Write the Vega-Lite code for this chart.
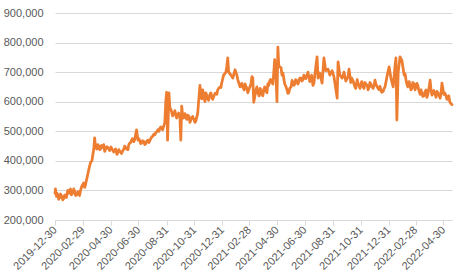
{
  "$schema": "https://vega.github.io/schema/vega-lite/v6.json",
  "width": 397,
  "height": 207,
  "autosize": {"type": "none"},
  "padding": {"left": 55, "top": 13, "right": 15, "bottom": 57},
  "background": "white",
  "config": {"view": {"stroke": null}, "font": "Liberation Sans"},
  "data": {"values": [
    {"d":"2019-12-30","v":290000},{"d":"2019-12-31","v":305000},{"d":"2020-01-02","v":280000},{"d":"2020-01-05","v":285000},
    {"d":"2020-01-09","v":275000},{"d":"2020-01-14","v":280000},{"d":"2020-01-18","v":272000},{"d":"2020-01-22","v":285000},
    {"d":"2020-01-27","v":300000},{"d":"2020-01-29","v":290000},{"d":"2020-02-02","v":305000},{"d":"2020-02-07","v":292000},
    {"d":"2020-02-11","v":298000},{"d":"2020-02-16","v":285000},{"d":"2020-02-20","v":290000},{"d":"2020-02-24","v":300000},
    {"d":"2020-02-27","v":315000},{"d":"2020-03-02","v":325000},{"d":"2020-03-04","v":310000},{"d":"2020-03-06","v":320000},
    {"d":"2020-03-11","v":355000},{"d":"2020-03-13","v":370000},{"d":"2020-03-17","v":395000},{"d":"2020-03-20","v":400000},
    {"d":"2020-03-22","v":420000},{"d":"2020-03-24","v":440000},{"d":"2020-03-26","v":478000},{"d":"2020-03-28","v":445000},
    {"d":"2020-03-31","v":440000},{"d":"2020-04-04","v":450000},{"d":"2020-04-08","v":440000},{"d":"2020-04-13","v":445000},
    {"d":"2020-04-15","v":455000},{"d":"2020-04-19","v":440000},{"d":"2020-04-24","v":445000},{"d":"2020-04-28","v":435000},
    {"d":"2020-05-03","v":440000},{"d":"2020-05-07","v":430000},{"d":"2020-05-11","v":440000},{"d":"2020-05-16","v":428000},
    {"d":"2020-05-20","v":432000},{"d":"2020-05-24","v":425000},{"d":"2020-05-29","v":440000},{"d":"2020-06-02","v":445000},
    {"d":"2020-06-07","v":438000},{"d":"2020-06-11","v":460000},{"d":"2020-06-15","v":470000},{"d":"2020-06-20","v":465000},
    {"d":"2020-06-24","v":490000},{"d":"2020-06-26","v":505000},{"d":"2020-06-29","v":470000},{"d":"2020-07-03","v":468000},
    {"d":"2020-07-07","v":460000},{"d":"2020-07-12","v":465000},{"d":"2020-07-16","v":458000},{"d":"2020-07-21","v":470000},
    {"d":"2020-07-25","v":468000},{"d":"2020-07-29","v":480000},{"d":"2020-08-03","v":490000},{"d":"2020-08-07","v":495000},
    {"d":"2020-08-12","v":505000},{"d":"2020-08-16","v":510000},{"d":"2020-08-20","v":510000},{"d":"2020-08-25","v":520000},
    {"d":"2020-08-27","v":530000},{"d":"2020-08-29","v":600000},{"d":"2020-08-31","v":632000},{"d":"2020-09-02","v":470000},
    {"d":"2020-09-05","v":630000},{"d":"2020-09-07","v":580000},{"d":"2020-09-11","v":565000},{"d":"2020-09-16","v":560000},
    {"d":"2020-09-20","v":555000},{"d":"2020-09-24","v":555000},{"d":"2020-09-29","v":550000},{"d":"2020-10-01","v":470000},
    {"d":"2020-10-03","v":585000},{"d":"2020-10-05","v":555000},{"d":"2020-10-10","v":560000},{"d":"2020-10-14","v":540000},
    {"d":"2020-10-19","v":550000},{"d":"2020-10-21","v":530000},{"d":"2020-10-25","v":545000},{"d":"2020-10-30","v":540000},
    {"d":"2020-11-03","v":535000},{"d":"2020-11-07","v":560000},{"d":"2020-11-12","v":655000},{"d":"2020-11-14","v":620000},
    {"d":"2020-11-18","v":640000},{"d":"2020-11-23","v":600000},{"d":"2020-11-25","v":630000},{"d":"2020-11-29","v":610000},
    {"d":"2020-12-04","v":625000},{"d":"2020-12-08","v":615000},{"d":"2020-12-13","v":620000},{"d":"2020-12-17","v":630000},
    {"d":"2020-12-21","v":640000},{"d":"2020-12-26","v":650000},{"d":"2020-12-30","v":665000},{"d":"2021-01-03","v":690000},
    {"d":"2021-01-08","v":700000},{"d":"2021-01-10","v":720000},{"d":"2021-01-12","v":748000},{"d":"2021-01-14","v":700000},
    {"d":"2021-01-19","v":690000},{"d":"2021-01-23","v":680000},{"d":"2021-01-28","v":708000},{"d":"2021-02-01","v":690000},
    {"d":"2021-02-05","v":665000},{"d":"2021-02-10","v":655000},{"d":"2021-02-14","v":650000},{"d":"2021-02-19","v":660000},
    {"d":"2021-02-23","v":645000},{"d":"2021-02-27","v":640000},{"d":"2021-03-04","v":660000},{"d":"2021-03-06","v":685000},
    {"d":"2021-03-08","v":680000},{"d":"2021-03-10","v":598000},{"d":"2021-03-15","v":640000},{"d":"2021-03-19","v":630000},
    {"d":"2021-03-24","v":645000},{"d":"2021-03-28","v":625000},{"d":"2021-04-01","v":640000},{"d":"2021-04-06","v":635000},
    {"d":"2021-04-10","v":660000},{"d":"2021-04-14","v":670000},{"d":"2021-04-19","v":665000},{"d":"2021-04-23","v":700000},
    {"d":"2021-04-25","v":742000},{"d":"2021-04-28","v":680000},{"d":"2021-04-30","v":600000},{"d":"2021-05-02","v":785000},
    {"d":"2021-05-04","v":720000},{"d":"2021-05-09","v":715000},{"d":"2021-05-13","v":697000},{"d":"2021-05-17","v":660000},
    {"d":"2021-05-22","v":640000},{"d":"2021-05-26","v":630000},{"d":"2021-05-31","v":650000},{"d":"2021-06-04","v":665000},
    {"d":"2021-06-08","v":660000},{"d":"2021-06-13","v":670000},{"d":"2021-06-17","v":668000},{"d":"2021-06-22","v":680000},
    {"d":"2021-06-26","v":675000},{"d":"2021-06-30","v":685000},{"d":"2021-07-05","v":690000},{"d":"2021-07-09","v":683000},
    {"d":"2021-07-13","v":672000},{"d":"2021-07-18","v":655000},{"d":"2021-07-22","v":690000},{"d":"2021-07-27","v":752000},
    {"d":"2021-07-29","v":680000},{"d":"2021-08-02","v":697000},{"d":"2021-08-07","v":663000},{"d":"2021-08-11","v":748000},
    {"d":"2021-08-15","v":705000},{"d":"2021-08-20","v":710000},{"d":"2021-08-24","v":690000},{"d":"2021-08-29","v":705000},
    {"d":"2021-09-02","v":685000},{"d":"2021-09-04","v":665000},{"d":"2021-09-09","v":612000},{"d":"2021-09-11","v":735000},
    {"d":"2021-09-15","v":690000},{"d":"2021-09-20","v":680000},{"d":"2021-09-24","v":700000},{"d":"2021-09-28","v":670000},
    {"d":"2021-10-03","v":685000},{"d":"2021-10-05","v":710000},{"d":"2021-10-09","v":665000},{"d":"2021-10-14","v":670000},
    {"d":"2021-10-18","v":650000},{"d":"2021-10-23","v":675000},{"d":"2021-10-27","v":655000},{"d":"2021-10-31","v":660000},
    {"d":"2021-11-05","v":650000},{"d":"2021-11-09","v":665000},{"d":"2021-11-14","v":655000},{"d":"2021-11-18","v":650000},
    {"d":"2021-11-22","v":660000},{"d":"2021-11-27","v":645000},{"d":"2021-12-01","v":673000},{"d":"2021-12-06","v":650000},
    {"d":"2021-12-10","v":640000},{"d":"2021-12-14","v":640000},{"d":"2021-12-19","v":635000},{"d":"2021-12-23","v":650000},
    {"d":"2021-12-28","v":690000},{"d":"2022-01-01","v":718000},{"d":"2022-01-05","v":680000},{"d":"2022-01-10","v":650000},
    {"d":"2022-01-14","v":720000},{"d":"2022-01-16","v":748000},{"d":"2022-01-18","v":538000},{"d":"2022-01-21","v":700000},
    {"d":"2022-01-25","v":752000},{"d":"2022-01-29","v":740000},{"d":"2022-02-03","v":690000},{"d":"2022-02-07","v":675000},
    {"d":"2022-02-11","v":650000},{"d":"2022-02-16","v":655000},{"d":"2022-02-20","v":645000},{"d":"2022-02-25","v":660000},
    {"d":"2022-03-01","v":650000},{"d":"2022-03-05","v":655000},{"d":"2022-03-10","v":625000},{"d":"2022-03-14","v":630000},
    {"d":"2022-03-19","v":620000},{"d":"2022-03-23","v":640000},{"d":"2022-03-27","v":625000},{"d":"2022-04-01","v":673000},
    {"d":"2022-04-03","v":640000},{"d":"2022-04-07","v":630000},{"d":"2022-04-12","v":625000},{"d":"2022-04-16","v":635000},
    {"d":"2022-04-21","v":620000},{"d":"2022-04-25","v":630000},{"d":"2022-04-27","v":663000},{"d":"2022-05-01","v":625000},
    {"d":"2022-05-06","v":620000},{"d":"2022-05-10","v":615000},{"d":"2022-05-14","v":600000},{"d":"2022-05-19","v":590000},
    {"d":"2020-01-03","v":292000},{"d":"2020-01-07","v":270000},{"d":"2020-01-11","v":288000},{"d":"2020-01-16","v":268000},
    {"d":"2020-01-20","v":283000},{"d":"2020-01-24","v":276000},{"d":"2020-02-04","v":285000},{"d":"2020-02-09","v":305000},
    {"d":"2020-02-13","v":283000},{"d":"2020-02-18","v":296000},{"d":"2020-02-22","v":283000},
    {"d":"2020-04-02","v":455000},{"d":"2020-04-06","v":438000},{"d":"2020-04-10","v":452000},{"d":"2020-04-17","v":432000},
    {"d":"2020-04-22","v":448000},{"d":"2020-04-26","v":440000},{"d":"2020-05-01","v":447000},{"d":"2020-05-05","v":435000},
    {"d":"2020-05-09","v":437000},{"d":"2020-05-14","v":422000},{"d":"2020-05-18","v":438000},{"d":"2020-05-22","v":430000},
    {"d":"2020-05-26","v":432000},{"d":"2020-05-31","v":450000},{"d":"2020-06-04","v":440000},{"d":"2020-06-09","v":455000},
    {"d":"2020-06-13","v":462000},{"d":"2020-06-17","v":475000},{"d":"2020-06-22","v":472000},
    {"d":"2020-07-01","v":475000},{"d":"2020-07-05","v":458000},{"d":"2020-07-09","v":468000},{"d":"2020-07-14","v":455000},
    {"d":"2020-07-18","v":466000},{"d":"2020-07-23","v":462000},{"d":"2020-07-27","v":475000},{"d":"2020-08-01","v":485000},
    {"d":"2020-08-05","v":488000},{"d":"2020-08-10","v":500000},{"d":"2020-08-14","v":500000},{"d":"2020-08-18","v":515000},
    {"d":"2020-08-22","v":505000},
    {"d":"2020-09-09","v":575000},{"d":"2020-09-13","v":552000},{"d":"2020-09-18","v":570000},{"d":"2020-09-22","v":545000},
    {"d":"2020-09-26","v":562000},{"d":"2020-10-07","v":545000},{"d":"2020-10-12","v":550000},{"d":"2020-10-16","v":555000},
    {"d":"2020-10-23","v":538000},{"d":"2020-10-27","v":550000},{"d":"2020-11-01","v":530000},{"d":"2020-11-05","v":548000},
    {"d":"2020-11-16","v":610000},{"d":"2020-11-20","v":625000},{"d":"2020-11-27","v":622000},{"d":"2020-12-01","v":605000},
    {"d":"2020-12-06","v":630000},{"d":"2020-12-10","v":608000},{"d":"2020-12-15","v":628000},{"d":"2020-12-19","v":625000},
    {"d":"2020-12-23","v":645000},{"d":"2020-12-28","v":648000},
    {"d":"2021-02-03","v":675000},{"d":"2021-02-08","v":650000},{"d":"2021-02-12","v":662000},{"d":"2021-02-17","v":640000},
    {"d":"2021-02-21","v":652000},{"d":"2021-02-25","v":630000},{"d":"2021-03-17","v":650000},{"d":"2021-03-22","v":620000},
    {"d":"2021-03-26","v":640000},{"d":"2021-03-30","v":620000},{"d":"2021-04-03","v":650000},{"d":"2021-04-08","v":630000},
    {"d":"2021-04-12","v":655000},{"d":"2021-04-16","v":675000},{"d":"2021-04-21","v":660000},
    {"d":"2021-05-11","v":690000},{"d":"2021-05-20","v":650000},{"d":"2021-05-24","v":628000},{"d":"2021-05-28","v":645000},
    {"d":"2021-06-02","v":672000},{"d":"2021-06-06","v":655000},{"d":"2021-06-10","v":675000},{"d":"2021-06-15","v":660000},
    {"d":"2021-06-19","v":680000},{"d":"2021-06-24","v":670000},{"d":"2021-06-28","v":690000},{"d":"2021-07-02","v":678000},
    {"d":"2021-07-07","v":700000},{"d":"2021-07-11","v":668000},{"d":"2021-07-15","v":690000},{"d":"2021-07-20","v":662000},
    {"d":"2021-10-11","v":680000},{"d":"2021-10-16","v":660000},{"d":"2021-10-20","v":645000},{"d":"2021-10-25","v":660000},
    {"d":"2021-10-29","v":645000},{"d":"2021-11-02","v":668000},{"d":"2021-11-07","v":645000},{"d":"2021-11-11","v":660000},
    {"d":"2021-11-16","v":640000},{"d":"2021-11-20","v":665000},{"d":"2021-11-24","v":650000},{"d":"2021-11-29","v":655000},
    {"d":"2021-12-03","v":660000},{"d":"2021-12-08","v":645000},{"d":"2021-12-12","v":652000},{"d":"2021-12-16","v":632000},
    {"d":"2021-12-21","v":645000},
    {"d":"2022-02-05","v":695000},{"d":"2022-02-09","v":660000},{"d":"2022-02-14","v":668000},{"d":"2022-02-18","v":640000},
    {"d":"2022-02-22","v":665000},{"d":"2022-02-27","v":640000},{"d":"2022-03-03","v":662000},{"d":"2022-03-07","v":640000},
    {"d":"2022-03-12","v":640000},{"d":"2022-03-16","v":618000},{"d":"2022-03-21","v":635000},{"d":"2022-03-25","v":615000},
    {"d":"2022-03-29","v":640000},{"d":"2022-04-05","v":622000},{"d":"2022-04-09","v":638000},{"d":"2022-04-14","v":615000},
    {"d":"2022-04-18","v":630000},{"d":"2022-04-23","v":612000},{"d":"2022-05-03","v":630000},{"d":"2022-05-08","v":608000},
    {"d":"2022-05-12","v":620000},{"d":"2022-05-16","v":595000}
  ]},
  "mark": {"type": "line", "color": "#ED7D31", "strokeWidth": 2.75, "strokeJoin": "round", "strokeCap": "round"},
  "encoding": {
    "x": {
      "field": "d", "type": "temporal", "title": null,
      "scale": {"type": "utc", "domain": [{"year": 2019, "month": 12, "date": 30, "utc": true}, {"year": 2022, "month": 5, "date": 19, "utc": true}], "nice": false},
      "axis": {
        "values": [
          {"year": 2019, "month": 12, "date": 30, "utc": true},
          {"year": 2020, "month": 2, "date": 29, "utc": true},
          {"year": 2020, "month": 4, "date": 30, "utc": true},
          {"year": 2020, "month": 6, "date": 30, "utc": true},
          {"year": 2020, "month": 8, "date": 31, "utc": true},
          {"year": 2020, "month": 10, "date": 31, "utc": true},
          {"year": 2020, "month": 12, "date": 31, "utc": true},
          {"year": 2021, "month": 2, "date": 28, "utc": true},
          {"year": 2021, "month": 4, "date": 30, "utc": true},
          {"year": 2021, "month": 6, "date": 30, "utc": true},
          {"year": 2021, "month": 8, "date": 31, "utc": true},
          {"year": 2021, "month": 10, "date": 31, "utc": true},
          {"year": 2021, "month": 12, "date": 31, "utc": true},
          {"year": 2022, "month": 2, "date": 28, "utc": true},
          {"year": 2022, "month": 4, "date": 30, "utc": true}
        ],
        "labelExpr": "utcFormat(datum.value, '%Y-%m-%d')",
        "labelAngle": -45, "labelAlign": "right", "labelBaseline": "middle",
        "labelFontSize": 11, "labelColor": "#595959", "labelPadding": 3,
        "labelOverlap": false, "labelFlush": false, "labelBound": false,
        "grid": false, "domainColor": "#D9D9D9", "domainWidth": 1,
        "tickColor": "#D9D9D9", "tickSize": 5, "ticks": true
      }
    },
    "y": {
      "field": "v", "type": "quantitative", "title": null,
      "scale": {"domain": [200000, 900000], "nice": false, "zero": false},
      "axis": {
        "values": [200000, 300000, 400000, 500000, 600000, 700000, 800000, 900000],
        "format": ",d", "labelFontSize": 11, "labelColor": "#595959", "labelPadding": 12,
        "domain": false, "ticks": false, "gridColor": "#D9D9D9", "gridWidth": 1
      }
    }
  }
}
